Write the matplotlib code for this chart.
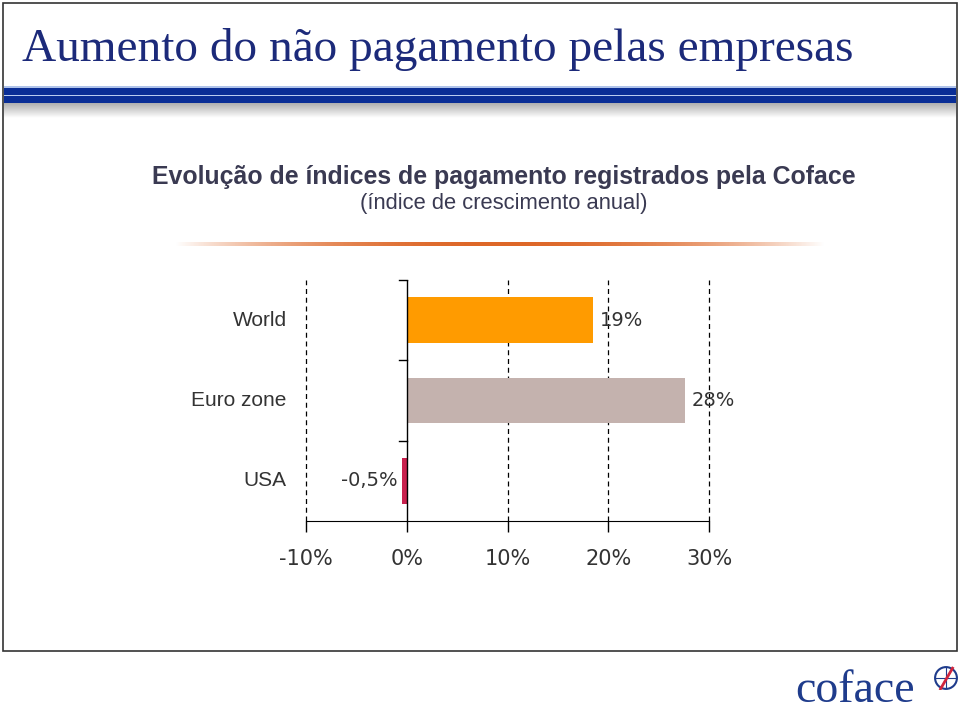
import numpy as np
import matplotlib.pyplot as plt
from matplotlib.patches import Rectangle, Circle

# data
regions = ["World", "Euro zone", "USA"]
growth = [18.5, 27.6, -0.5]
labels = ["19%", "28%", "-0,5%"]
bar_colors = ["#FF9B00", "#C4B2AE", "#C8214E"]
xticks = [-10, 0, 10, 20, 30]
xticklabels = ["-10%", "0%", "10%", "20%", "30%"]

W, H = 960, 713
fig = plt.figure(figsize=(9.6, 7.13), dpi=100)
fig.patch.set_facecolor("white")

def fx(px):
    return px / W

def fy(py):
    return 1 - py / H

# outer frame
fig.patches.append(Rectangle((fx(3), fy(651)), fx(954), 648 / H, transform=fig.transFigure,
                             fill=False, edgecolor="#333333", linewidth=1.2))

# main title
fig.text(fx(22), fy(61), "Aumento do não pagamento pelas empresas", fontsize=34,
         family="Liberation Serif", color="#1C2A7A", va="baseline", ha="left")

# header blue bands + shadow
hdr = fig.add_axes([fx(4), fy(118), fx(952), 32 / H])
hdr.set_axis_off()
hdr.set_xlim(0, 1)
hdr.add_patch(Rectangle((0, 86), 1, 1.5, color="#AFC3EA", lw=0))
hdr.add_patch(Rectangle((0, 87.5), 1, 7, color="#0A2E96", lw=0))
hdr.add_patch(Rectangle((0, 94.5), 1, 1.5, color="#B9CCF0", lw=0))
hdr.add_patch(Rectangle((0, 96), 1, 7, color="#0A2E96", lw=0))
shade = np.linspace(0.78, 1.0, 30) ** 1.5
shade_img = np.repeat(shade[:, None], 10, axis=1)
hdr.imshow(shade_img, cmap="gray", vmin=0, vmax=1, extent=[0, 1, 118, 103],
           aspect="auto", interpolation="bilinear")
hdr.set_xlim(0, 1)
hdr.set_ylim(118, 86)

# subtitles
fig.text(fx(504), fy(177), "Evolução de índices de pagamento registrados pela Coface",
         fontsize=17.9, fontweight="bold", color="#3A3A52", ha="center", va="center",
         family="Liberation Sans")
fig.text(fx(504), fy(204), "(índice de crescimento anual)", fontsize=15.8,
         color="#3A3A52", ha="center", va="center", family="Liberation Sans")

# orange fading rule
rule = fig.add_axes([fx(175), fy(246), fx(650), 4 / H])
rule.set_axis_off()
t = np.linspace(-1, 1, 400)
alpha = np.clip(1 - np.abs(t) ** 2.2, 0, 1)
rgba = np.zeros((1, 400, 4))
rgba[..., 0] = 0.87
rgba[..., 1] = 0.40
rgba[..., 2] = 0.15
rgba[..., 3] = alpha
rule.imshow(rgba, aspect="auto", extent=[0, 1, 0, 1])

# bar chart
ax = fig.add_axes([fx(306), fy(521), fx(403), 241 / H])
y = np.arange(len(regions))
ax.barh(y, growth, height=0.57, color=bar_colors, zorder=3)
ax.set_xlim(-10, 30)
ax.set_ylim(2.5, -0.5)
for xv in [-10, 10, 20, 30]:
    ax.axvline(xv, color="black", linestyle=(0, (4, 3)), linewidth=0.9, zorder=1,
               clip_on=False)
ax.axvline(0, color="black", linewidth=1.0, zorder=4)
for s in ["top", "right", "left"]:
    ax.spines[s].set_visible(False)
ax.spines["bottom"].set_color("black")
ax.set_xticks(xticks)
ax.set_xticklabels(xticklabels)
ax.tick_params(axis="x", length=8, width=1, direction="out", pad=12,
               labelsize=15, labelcolor="#333333")
ax.set_yticks([])
# category ticks on the zero line
for b in [-0.5, 0.5, 1.5]:
    ax.plot([-0.8, 0], [b, b], color="black", linewidth=1, clip_on=False, zorder=4)
for i, name in enumerate(regions):
    ax.text(-11.9, i, name, ha="right", va="center", fontsize=15, color="#333333",
            family="Liberation Sans")
for i, (v, lab) in enumerate(zip(growth, labels)):
    if v >= 0:
        ax.text(v + 0.7, i, lab, ha="left", va="center", fontsize=14, color="#333333")
    else:
        ax.text(v - 0.4, i, lab, ha="right", va="center", fontsize=14, color="#333333")

# logo
fig.text(fx(795), fy(702), "coface", fontsize=33, family="Liberation Serif",
         color="#1F3C8C", ha="left", va="baseline")
logo = fig.add_axes([fx(934), fy(692), fx(24), 28 / H])
logo.set_axis_off()
logo.set_aspect("equal")
logo.set_xlim(-1.1, 1.1)
logo.set_ylim(-1.1, 1.1)
logo.add_patch(Circle((0, 0), 1, fill=False, edgecolor="#1F3C8C", linewidth=1.5))
logo.plot([-0.9, 0.9], [0, 0], color="#1F3C8C", lw=0.8)
logo.plot([0, 0], [-0.9, 0.9], color="#1F3C8C", lw=0.8)
logo.plot([-0.5, 0.6], [-1.0, 0.9], color="#D0243C", lw=2)

fig.savefig("out.png", dpi=100, facecolor="white")
